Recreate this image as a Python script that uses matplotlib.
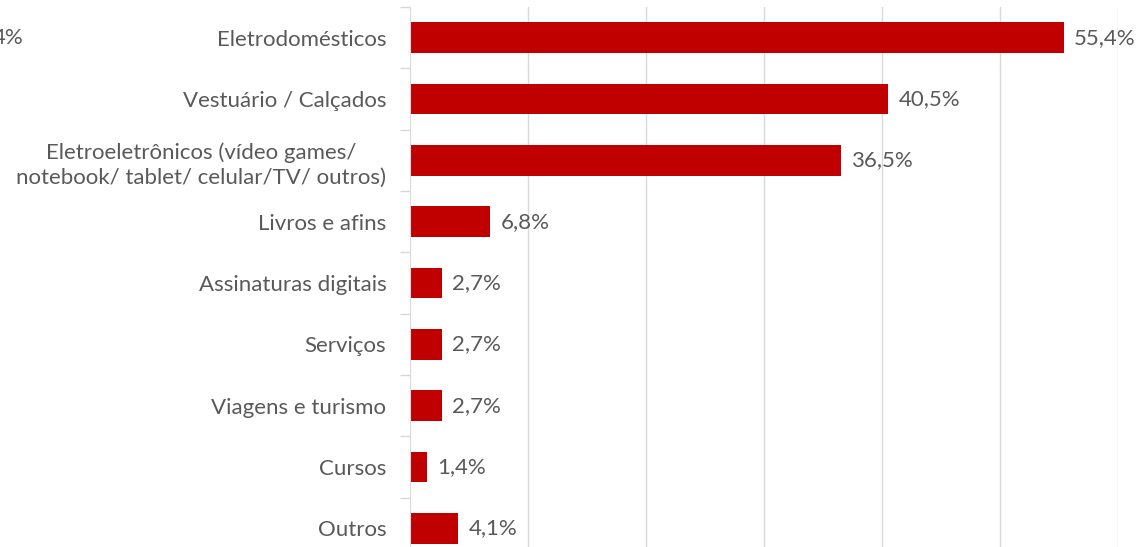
import matplotlib.pyplot as plt
import numpy as np

# data
categories = ["Eletrodomésticos", "Vestuário / Calçados",
              "Eletroeletrônicos (vídeo games/\nnotebook/ tablet/ celular/TV/ outros)",
              "Livros e afins", "Assinaturas digitais", "Serviços",
              "Viagens e turismo", "Cursos", "Outros"]
values = [55.4, 40.5, 36.5, 6.8, 2.7, 2.7, 2.7, 1.4, 4.1]
labels = ["55,4%", "40,5%", "36,5%", "6,8%", "2,7%", "2,7%", "2,7%", "1,4%", "4,1%"]

bar_color = "#C00000"
text_color = "#595959"
grid_color = "#D9D9D9"
fs = 16

plt.rcParams['font.family'] = ['Lato', 'DejaVu Sans']

fig = plt.figure(figsize=(11.4, 5.47), dpi=100)
ax = fig.add_axes([410 / 1140, 1 - 559 / 547, 708 / 1140, 552 / 547])

y = np.arange(len(categories))
ax.barh(y, values, height=0.5, color=bar_color, zorder=3)
ax.set_ylim(len(categories) - 0.5, -0.5)
ax.set_xlim(0, 60)

for yi, v, lab in zip(y, values, labels):
    ax.annotate(lab, (v, yi), xytext=(7.5, 0), textcoords='offset points',
                va='center', ha='left', fontsize=fs, color=text_color)

# category labels on minor ticks, tick marks between categories
ax.set_yticks(np.arange(-0.5, len(categories), 1))
ax.set_yticklabels([])
ax.set_yticks(y, minor=True)
ax.set_yticklabels(categories, minor=True, fontsize=fs, color=text_color,
                   multialignment='center', linespacing=1.3)
ax.tick_params(axis='y', which='major', length=7, color=grid_color, width=1)
ax.tick_params(axis='y', which='minor', length=0, pad=17)

ax.set_xticks(np.arange(10, 61, 10))
ax.tick_params(axis='x', length=0, labelbottom=False)
ax.grid(axis='x', color=grid_color, linewidth=1, zorder=0)

for s in ['top', 'right', 'bottom']:
    ax.spines[s].set_visible(False)
ax.spines['left'].set_color(grid_color)
ax.spines['left'].set_zorder(4)

# leftover label cut off at the left edge of the picture
fig.text(-0.006, 1 - 38 / 547, "4%", fontsize=fs, color=text_color,
         va='center', ha='left')

fig.savefig("out.png", dpi=100, facecolor='white')
